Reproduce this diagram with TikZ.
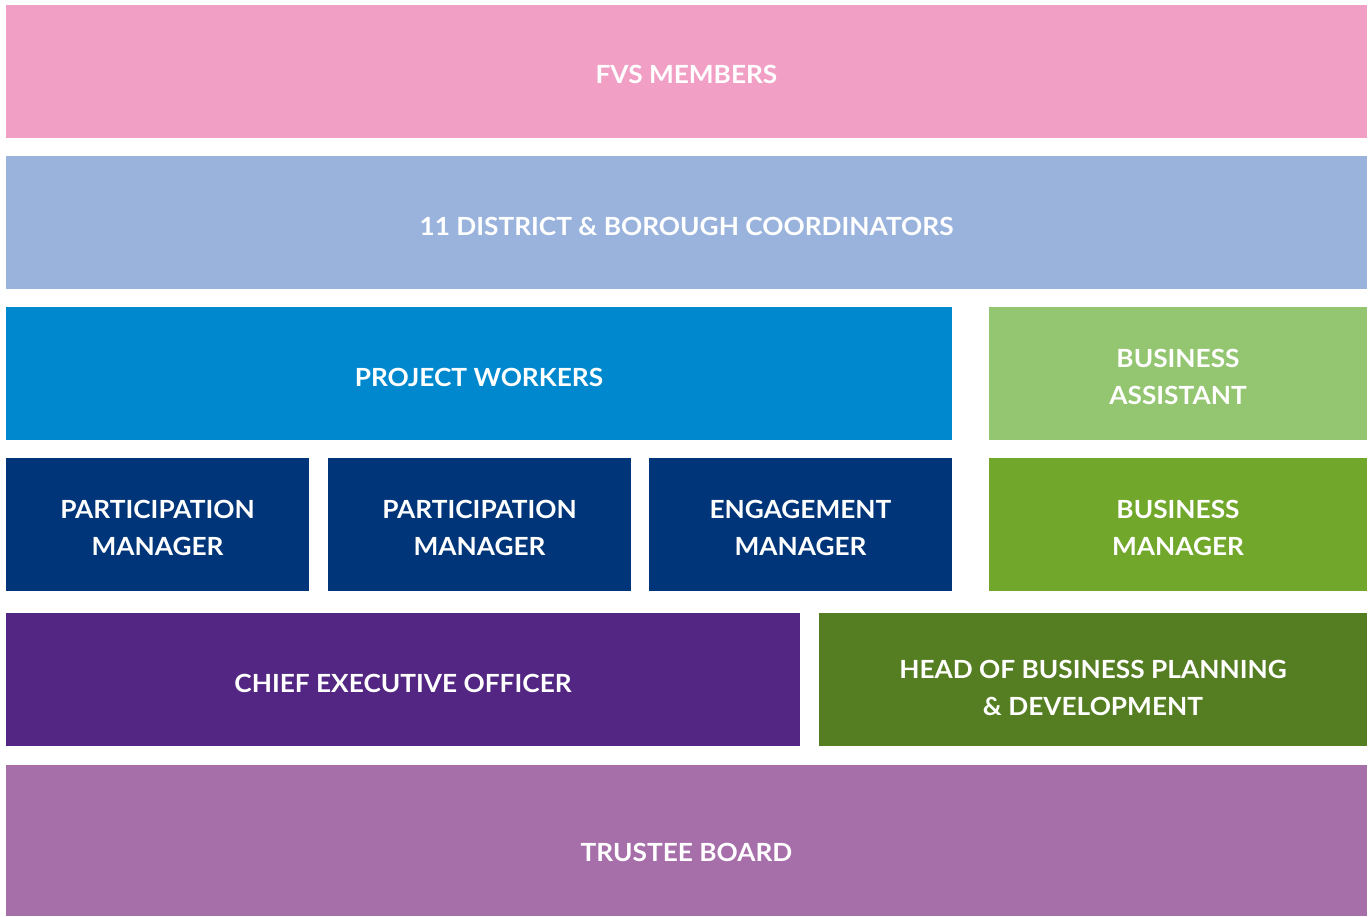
\documentclass[tikz,border=0pt]{standalone}
\usepackage{fontspec}
\setmainfont{Lato}[UprightFont=* Bold,FakeStretch=1.05]
\definecolor{cpink}{HTML}{F19FC5}
\definecolor{clblue}{HTML}{99B3DD}
\definecolor{cblue}{HTML}{0088CE}
\definecolor{clgreen}{HTML}{94C571}
\definecolor{cnavy}{HTML}{003679}
\definecolor{cgreen}{HTML}{71A72A}
\definecolor{cpurple}{HTML}{522682}
\definecolor{cdgreen}{HTML}{547E21}
\definecolor{cmauve}{HTML}{A66FAA}
\begin{document}
\begin{tikzpicture}[x=1pt,y=-1pt,
  lbl/.style={text=white,font=\fontsize{25}{37}\selectfont,align=center,inner sep=0pt}]
\useasboundingbox (0,0) rectangle (1371,916);
\fill[white] (0,0) rectangle (1371,916);
\fill[cpink] (6,5) rectangle (1367,138);
\node[lbl] (fvs) at (686.5,74) {FVS MEMBERS};
\fill[clblue] (6,156) rectangle (1367,289);
\node[lbl] (dbc) at (686.5,226) {11 DISTRICT \& BOROUGH COORDINATORS};
\fill[cblue] (6,307) rectangle (952,440);
\node[lbl] (pw) at (479,377) {PROJECT WORKERS};
\fill[clgreen] (989,307) rectangle (1367,440);
\node[lbl] (ba) at (1178,377) {BUSINESS\\ASSISTANT};
\fill[cnavy] (6,458) rectangle (309,591);
\node[lbl] (pm1) at (157.5,528) {PARTICIPATION\\MANAGER};
\fill[cnavy] (328,458) rectangle (631,591);
\node[lbl] (pm2) at (479.5,528) {PARTICIPATION\\MANAGER};
\fill[cnavy] (649,458) rectangle (952,591);
\node[lbl] (em) at (800.5,528) {ENGAGEMENT\\MANAGER};
\fill[cgreen] (989,458) rectangle (1367,591);
\node[lbl] (bm) at (1178,528) {BUSINESS\\MANAGER};
\fill[cpurple] (6,613) rectangle (800,746);
\node[lbl] (ceo) at (403,683) {CHIEF EXECUTIVE OFFICER};
\fill[cdgreen] (819,613) rectangle (1367,746);
\node[lbl] (hob) at (1093,688) {HEAD OF BUSINESS PLANNING\\\& DEVELOPMENT};
\fill[cmauve] (6,765) rectangle (1367,916);
\node[lbl] (tb) at (686.5,852) {TRUSTEE BOARD};
\end{tikzpicture}
\end{document}
